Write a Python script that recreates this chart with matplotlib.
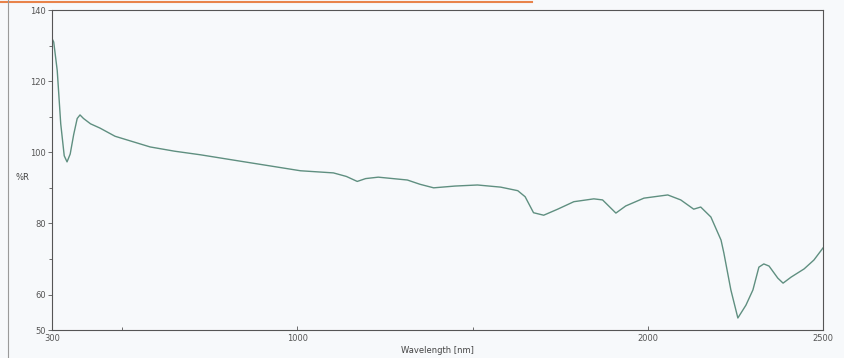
#!/usr/bin/env python3
"""Reflectance spectrum (%R vs wavelength) redrawn from a scanned printout."""

import matplotlib
matplotlib.use("Agg")

import matplotlib.pyplot as plt
from matplotlib.lines import Line2D

# Values
wavelength_nm = [
    300, 305, 315, 325, 335, 343, 352, 362, 372, 380, 390, 410, 437, 480,
    530, 580, 650, 723, 837, 920, 1009, 1103, 1140, 1171, 1195, 1231, 1314,
    1350, 1389, 1450, 1514, 1580, 1629, 1650, 1674, 1703, 1743, 1789, 1846,
    1871, 1909, 1937, 1989, 2057, 2094, 2131, 2151, 2180, 2209, 2217, 2237,
    2257, 2280, 2300, 2317, 2331, 2346, 2371, 2386, 2409, 2446, 2474, 2500,
]
reflectance = [
    132.0, 131.0, 123.0, 108.0, 99.0, 97.3, 99.5, 105.0, 109.5, 110.5, 109.5,
    108.0, 106.8, 104.5, 103.0, 101.5, 100.3, 99.3, 97.5, 96.2, 94.8, 94.2,
    93.2, 91.8, 92.6, 93.0, 92.2, 91.0, 90.0, 90.5, 90.8, 90.2, 89.2, 87.5,
    83.0, 82.3, 84.0, 86.1, 86.9, 86.6, 82.9, 84.9, 87.1, 88.0, 86.6, 84.0,
    84.6, 81.8, 75.3, 71.7, 61.3, 53.4, 57.0, 61.3, 67.7, 68.6, 68.0, 64.6,
    63.2, 64.9, 67.2, 69.7, 73.1,
]

x_major = [300, 1000, 2000, 2500]
x_minor = [500, 1500]
y_major = [50, 60, 80, 100, 120, 140]
y_minor = [70, 90, 110, 130]

PAPER = "#f7f9fb"
LINE = "#5f8f80"
FRAME = "#555555"

fig = plt.figure(figsize=(8.45, 3.58), dpi=100)
fig.patch.set_facecolor(PAPER)
ax = fig.add_axes([0.0615, 0.078, 0.9125, 0.894])
ax.set_facecolor(PAPER)

ax.plot(wavelength_nm, reflectance, color=LINE, linewidth=1.0)

ax.set_xlim(300, 2500)
ax.set_ylim(50, 140)
ax.set_xticks(x_major)
ax.set_xticks(x_minor, minor=True)
ax.set_yticks(y_major)
ax.set_yticks(y_minor, minor=True)
ax.tick_params(axis="both", which="major", labelsize=6, length=3, width=0.6,
               colors=FRAME, pad=1.5)
ax.tick_params(axis="both", which="minor", length=2, width=0.6, colors=FRAME)
# x ticks point up into the plot on the printout
ax.tick_params(axis="x", which="both", direction="in", pad=3)

for side in ax.spines.values():
    side.set_color(FRAME)
    side.set_linewidth(0.8)

ax.set_xlabel("Wavelength [nm]", fontsize=6, color="#444444", labelpad=2)
fig.text(0.027, 0.505, "%R", fontsize=6, color="#444444", ha="center", va="center")

# scan artefacts: orange rule along the top and the page edge on the left
fig.add_artist(Line2D([0.0, 0.63], [0.995, 0.995], color="#e8834a", linewidth=1.5,
                      transform=fig.transFigure))
fig.add_artist(Line2D([0.009, 0.009], [0.0, 1.0], color="#9a9a9a", linewidth=0.8,
                      transform=fig.transFigure))

fig.savefig("out.png", dpi=100, facecolor=PAPER)
